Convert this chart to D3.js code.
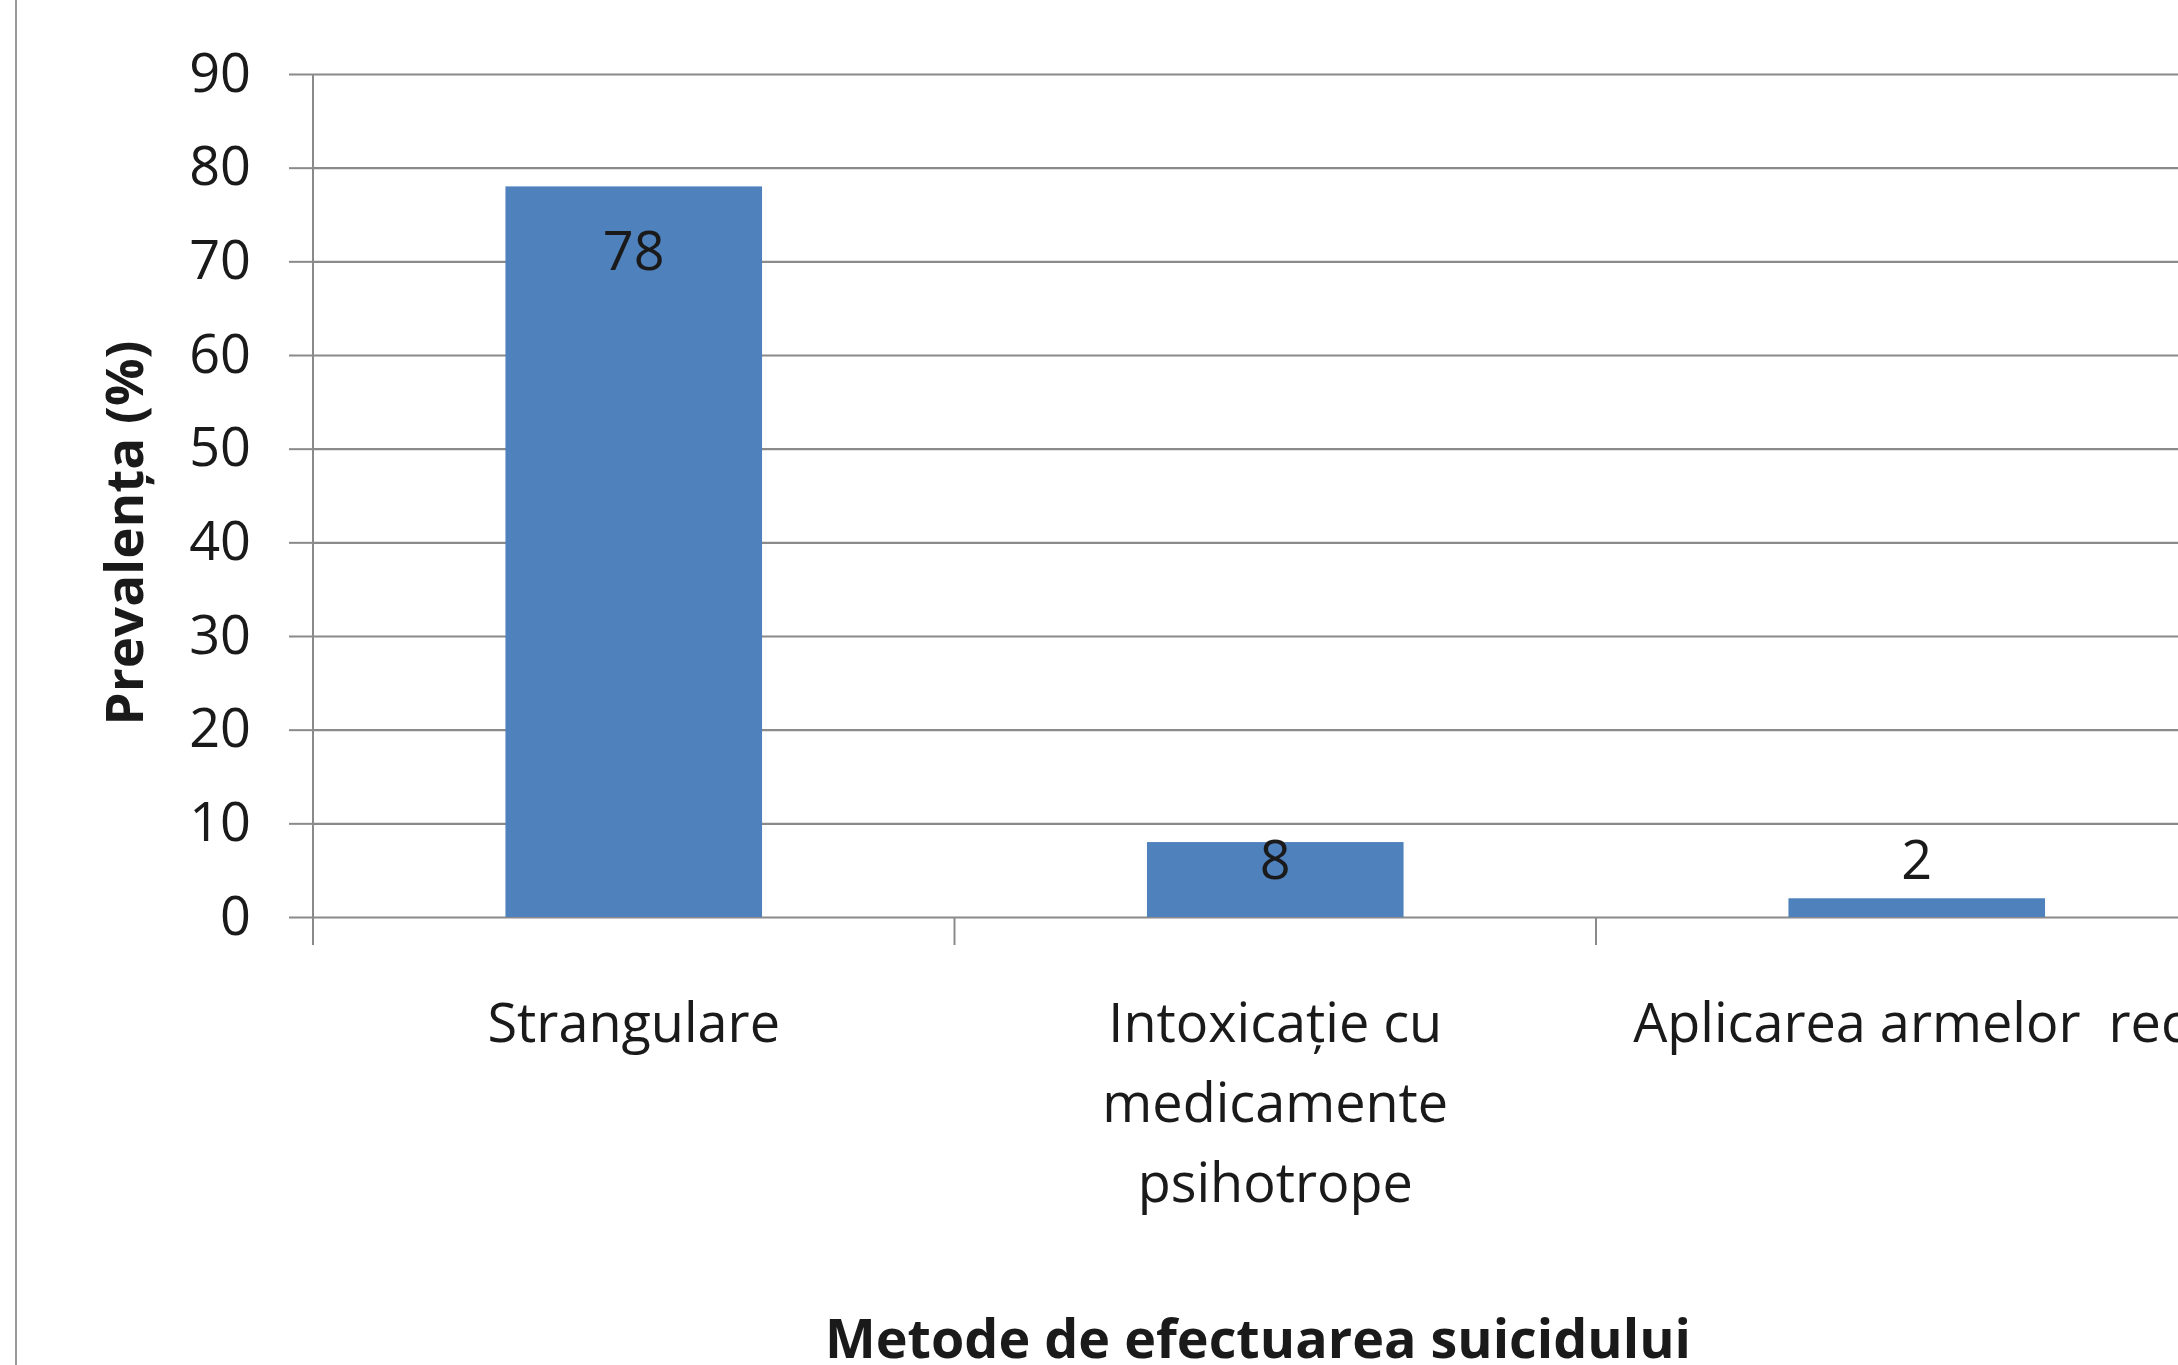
<!DOCTYPE html>
<html>
<head>
<meta charset="utf-8">
<script src="https://cdnjs.cloudflare.com/ajax/libs/d3/7.8.5/d3.min.js"></script>
<style>
    html, body { margin: 0; padding: 0; background: #fff; overflow: hidden; }
    svg { display: block; }
    text { font-family: "Open Sans", "DejaVu Sans", sans-serif; fill: #1a1a1a; }
</style>
</head>
<body>
<div id="chart"></div>
<script>

// data
var categories = ["Strangulare", "Intoxicație cu medicamente psihotrope", "Aplicarea armelor reci"];
var categoryLines = [["Strangulare"], ["Intoxicație cu", "medicamente", "psihotrope"], ["Aplicarea armelor  reci"]];
var values = [78, 8, 2];
var yTicks = [0, 10, 20, 30, 40, 50, 60, 70, 80, 90];
var yTitle = "Prevalența (%)";
var xTitle = "Metode de efectuarea suicidului";

var dim = { "w": 2178, "h": 1365 };
var plot = { "left": 313, "top": 74, "bottom": 917, "step": 641.5 };
var grey = "#8a8a8a";

var svg = d3.select("#chart").append("svg")
        .attr("width", dim.w)
        .attr("height", dim.h);

var x = d3.scaleBand()
        .domain(categories)
        .range([plot.left, plot.left + plot.step * categories.length])
        .paddingInner(0.6)
        .paddingOuter(0.3);

var y = d3.scaleLinear()
        .domain([0, 90])
        .range([plot.bottom, plot.top]);

// chart area border, only its left edge shows
svg.append("line")
    .attr("x1", 16).attr("x2", 16)
    .attr("y1", 0).attr("y2", dim.h)
    .attr("stroke", "#999")
    .attr("stroke-width", 2);

// gridlines
svg.append("g")
    .attr("class", "grid")
    .attr("transform", "translate(" + plot.left + ",0)")
    .call(d3.axisLeft(y).tickValues(yTicks).tickSize(-(dim.w - plot.left)).tickFormat(""))
    .call(function(g) {
        g.select(".domain").remove();
        g.selectAll("line").attr("stroke", grey).attr("stroke-width", 2.2);
    });

// y axis with tick labels
svg.append("g")
    .attr("class", "y-axis")
    .attr("transform", "translate(" + plot.left + ",0)")
    .call(d3.axisLeft(y).tickValues(yTicks).tickSize(24).tickSizeOuter(0).tickPadding(38))
    .call(function(g) {
        g.select(".domain").remove();
        g.selectAll("line").attr("stroke", grey).attr("stroke-width", 2);
        g.selectAll("text")
            .style("font-family", "'Open Sans', sans-serif")
            .style("font-size", "54px")
            .attr("fill", "#1a1a1a");
    });

svg.append("line")
    .attr("x1", plot.left).attr("x2", plot.left)
    .attr("y1", plot.top).attr("y2", plot.bottom)
    .attr("stroke", grey)
    .attr("stroke-width", 2);

// category axis: ticks sit on the boundaries between categories
var bounds = d3.range(categories.length + 1).map(function(i) {
    return x.range()[0] + i * x.step();
});

svg.append("g")
    .attr("class", "x-ticks")
    .selectAll("line")
    .data(bounds)
    .enter()
    .append("line")
    .attr("x1", function(d) { return d; })
    .attr("x2", function(d) { return d; })
    .attr("y1", plot.bottom)
    .attr("y2", plot.bottom + 28)
    .attr("stroke", grey)
    .attr("stroke-width", 2);

// bars
svg.append("g")
    .attr("class", "bars")
    .selectAll("rect")
    .data(values)
    .enter()
    .append("rect")
    .attr("x", function(d, i) { return x(categories[i]); })
    .attr("y", function(d) { return y(d); })
    .attr("width", x.bandwidth())
    .attr("height", function(d) { return y(0) - y(d); })
    .attr("fill", "#4F81BD");

// value labels: inside the top of the tall bar, above the short ones
svg.append("g")
    .attr("class", "values")
    .selectAll("text")
    .data(values)
    .enter()
    .append("text")
    .attr("x", function(d, i) { return x(categories[i]) + x.bandwidth() / 2; })
    .attr("y", function(d) { return Math.min(y(d) + 84, y(0) - 38); })
    .attr("text-anchor", "middle")
    .style("font-size", "54px")
    .text(function(d) { return d; });

// category labels
var cat = svg.append("g")
    .attr("class", "cat-labels")
    .selectAll("text")
    .data(categoryLines)
    .enter()
    .append("text")
    .attr("text-anchor", "middle")
    .style("font-size", "54px")
    .attr("transform", function(d, i) {
        return "translate(" + (x(categories[i]) + x.bandwidth() / 2) + "," + 1042 + ")";
    });

cat.selectAll("tspan")
    .data(function(d) { return d; })
    .enter()
    .append("tspan")
    .attr("x", 0)
    .attr("y", function(d, i) { return i * 80; })
    .style("white-space", "pre")
    .text(function(d) { return d; });

// axis titles
svg.append("text")
    .attr("transform", "translate(143,533) rotate(-90)")
    .attr("text-anchor", "middle")
    .attr("textLength", 385)
    .attr("lengthAdjust", "spacingAndGlyphs")
    .style("font-size", "52px")
    .style("font-weight", "bold")
    .text(yTitle);

svg.append("text")
    .attr("x", 1258)
    .attr("y", 1358)
    .attr("text-anchor", "middle")
    .attr("textLength", 866)
    .attr("lengthAdjust", "spacingAndGlyphs")
    .style("font-size", "54px")
    .style("font-weight", "bold")
    .text(xTitle);

</script>
</body>
</html>
